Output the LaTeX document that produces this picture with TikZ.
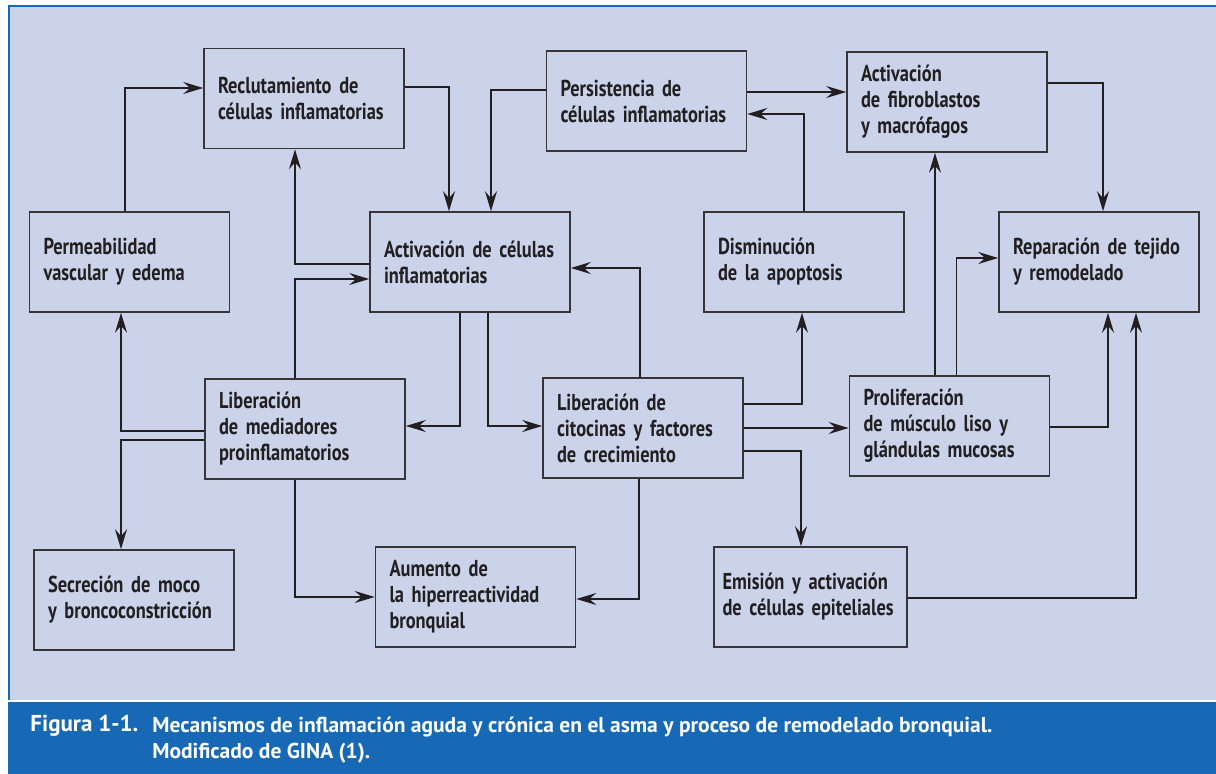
\documentclass[tikz,border=0pt]{standalone}
\usepackage{fontspec}
\usepackage{xcolor}
\usepackage{tikz}
\usetikzlibrary{arrows.meta,calc}
\newfontfamily\boxfont{PT Sans}[FakeStretch=0.8]
\newfontfamily\capfont{PT Sans}
\definecolor{framefill}{HTML}{CAD3EA}
\definecolor{bandblue}{HTML}{1769B5}
\definecolor{ink}{HTML}{231F20}
\tikzset{
    every picture/.style={line join=miter},
    mechbox/.style={draw=ink!90,line width=0.8pt,minimum width=100pt,
      minimum height=50pt,text width=86pt,inner xsep=7pt,inner ysep=2pt,
      align=left,text=ink,font=\boxfont\bfseries\fontsize{11.5}{13}\selectfont},
    link/.style={draw=ink,line width=0.75pt,-{Stealth[length=10pt,width=6pt,inset=3.5pt]}},
    captionfont/.style={text=white,inner sep=0pt,
      font=\capfont\bfseries\fontsize{10.75}{13}\selectfont}
}
\begin{document}
\begin{tikzpicture}[x=0.5pt,y=-0.5pt]
  \useasboundingbox (0,0) rectangle (1216,774);
  \fill[framefill] (10,7) rectangle (1216,700);
  \draw[bandblue,line width=1.2pt] (9,700) -- (9,6) -- (1216,6);
  \fill[bandblue] (8,702) rectangle (1216,774);

  \node[mechbox] (recl) at (304,98.5) {Reclutamiento de\\células inflamatorias};
  \node[mechbox] (perm) at (129.5,262) {Permeabilidad\\vascular y edema};
  \node[mechbox] (act) at (470,262) {Activación de células\\inflamatorias};
  \node[mechbox] (pers) at (646.5,101) {Persistencia de\\células inflamatorias};
  \node[mechbox] (fib) at (947,102) {Activación\\de fibroblastos\\y macrófagos};
  \node[mechbox] (dism) at (804,262) {Disminución\\de la apoptosis};
  \node[mechbox] (rep) at (1099,262) {Reparación de tejido\\y remodelado};
  \node[mechbox] (med) at (305,429) {Liberación\\de mediadores\\proinflamatorios};
  \node[mechbox] (cit) at (643,428) {Liberación de\\citocinas y factores\\de crecimiento};
  \node[mechbox] (prol) at (949.5,426) {Proliferación\\de músculo liso y\\glándulas mucosas};
  \node[mechbox] (sec) at (134,600) {Secreción de moco\\y broncoconstricción};
  \node[mechbox] (aum) at (475.5,597) {Aumento de\\la hiperreactividad\\bronquial};
  \node[mechbox,minimum width=96.5pt,text width=88pt,inner xsep=4.25pt] (emi) at (810.5,597) {Emisión y activación\\de células epiteliales};

  \draw[link] ($(perm.north)+(-4.5,0)$) |- ($(recl.west)+(0,-10.5)$);
  \draw[link] ($(recl.east)+(0,-11.5)$) -| ($(act.north)+(-21,0)$);
  \draw[link] ($(pers.west)+(0,-11)$) -| ($(act.north)+(21,0)$);
  \draw[link] ($(act.west)+(0,2)$) -| ($(recl.south)+(-9,0)$);
  \draw[link] ($(med.north)+(-10,0)$) |- ($(act.west)+(0,17)$);
  \draw[link] ($(act.south)+(-10,0)$) |- ($(med.east)+(0,-3)$);
  \draw[link] ($(act.south)+(18,0)$) |- ($(cit.west)+(0,-2)$);
  \draw[link] ($(cit.north)+(-3,0)$) |- ($(act.east)+(0,6)$);
  \draw[link] (dism.north) |- ($(pers.east)+(0,13)$);
  \draw[link] ($(pers.east)+(0,-9)$) -- ($(fib.west)+(0,-10)$);
  \draw[link] ($(fib.east)+(0,-19)$) -| ($(rep.north)+(4,0)$);
  \draw[link] ($(prol.north)+(-14.5,0)$) -- ($(fib.south)+(-12,0)$);
  \draw[link] ($(prol.north)+(7,0)$) |- ($(rep.west)+(0,-4)$);
  \draw[link] ($(prol.east)+(0,1)$) -| ($(rep.south)+(9,0)$);
  \draw[link] ($(emi.east)+(0,1)$) -| ($(rep.south)+(37,0)$);
  \draw[link] ($(cit.east)+(0,-24)$) -| ($(dism.south)+(-2,0)$);
  \draw[link] (cit.east) -- ($(prol.west)+(0,2)$);
  \draw[link] ($(cit.east)+(0,23)$) -| ($(emi.north)+(-9.5,0)$);
  \draw[link] ($(cit.south)+(-4,0)$) |- ($(aum.east)+(0,2)$);
  \draw[link] ($(med.south)+(-10,0)$) |- (aum.west);
  \draw[link] ($(med.west)+(0,2)$) -| ($(perm.south)+(-8.5,0)$);
  \draw[link] ($(med.west)+(0,11)$) -| ($(sec.north)+(-13,0)$);

  \node[captionfont,font=\capfont\bfseries\fontsize{11.5}{13}\selectfont,anchor=base west] (caplabel) at (30,732) {Figura 1-1.};
  \node[captionfont,anchor=base west,align=left] (captext) at (152,758)
    {Mecanismos de inflamación aguda y crónica en el asma y proceso de remodelado bronquial.\\
     Modificado de GINA (1).};
\end{tikzpicture}
\end{document}
